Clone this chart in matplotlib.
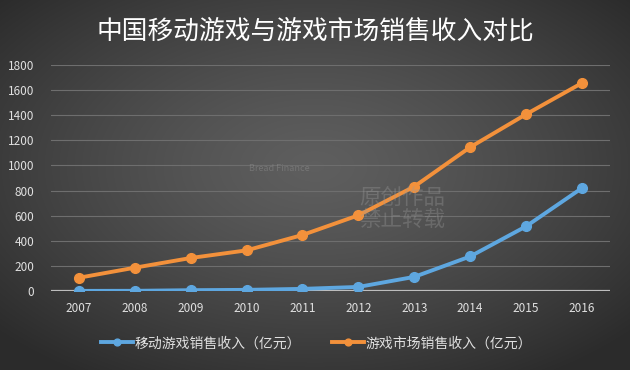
import numpy as np
import matplotlib.pyplot as plt

plt.rcParams['font.family'] = ['Noto Sans CJK SC', 'DejaVu Sans']

# data (亿元)
years = ['2007', '2008', '2009', '2010', '2011', '2012', '2013', '2014', '2015', '2016']
mobile = [1.0, 1.5, 6.4, 9.1, 17.0, 32.4, 112.4, 274.9, 514.6, 819.2]
market = [105.7, 185.6, 262.8, 323.7, 446.1, 602.8, 831.7, 1144.8, 1407.0, 1655.7]
yticks = [0, 200, 400, 600, 800, 1000, 1200, 1400, 1600, 1800]

fig = plt.figure(figsize=(6.3, 3.7), dpi=100)

# radial gradient background
bg = fig.add_axes([0, 0, 1, 1], zorder=-10)
gx, gy = np.meshgrid(np.linspace(-1, 1, 630), np.linspace(-1, 1, 370))
r = np.clip(np.sqrt(gx ** 2 + (gy + 0.1) ** 2) / 1.35, 0, 1)
shade = 0.37 - 0.20 * r ** 1.3
bg.imshow(np.dstack([shade, shade, shade]), aspect='auto', extent=[0, 1, 0, 1])
bg.axis('off')

fig.text(0.5, 0.915, '中国移动游戏与游戏市场销售收入对比', ha='center', va='center',
         color='white', fontsize=18.5)

# watermark
fig.text(0.57, 0.435, '原创作品\n禁止转载', ha='left', va='center', color='#9a9a9a',
         alpha=0.35, fontsize=15.5, linespacing=1.0)
fig.text(0.395, 0.545, 'Bread Finance', ha='left', va='center', color='#9a9a9a',
         alpha=0.4, fontsize=6.5)

ax = fig.add_axes([0.081, 0.2135, 0.887, 0.611])
ax.patch.set_alpha(0)
x = np.arange(len(years))

ax.plot(x, mobile, color='#5ea7e0', lw=2.8, marker='o', ms=7, label='移动游戏销售收入（亿元）', zorder=3)
ax.plot(x, market, color='#f3913b', lw=2.8, marker='o', ms=7, label='游戏市场销售收入（亿元）', zorder=3)

ax.set_xlim(-0.5, len(years) - 0.5)
ax.set_ylim(0, 1800)
ax.set_yticks(yticks)
ax.set_xticks(x)
ax.set_xticklabels(years)
ax.grid(axis='y', color='#6e6e6e', lw=0.8)
ax.set_axisbelow(True)
ax.axhline(0, color='#bdbdbd', lw=1.6, zorder=2)
for s in ax.spines.values():
    s.set_visible(False)
ax.tick_params(length=0, colors='#e0e0e0', labelsize=8.5)
ax.tick_params(axis='y', pad=12)
ax.tick_params(axis='x', pad=8)

leg = ax.legend(loc='upper center', bbox_to_anchor=(0.475, -0.145), ncol=2, frameon=False,
                fontsize=10, handlelength=2.3, columnspacing=2.2, handletextpad=0.15,
                markerscale=0.7)
for t in leg.get_texts():
    t.set_color('#e0e0e0')

fig.savefig('out.png', dpi=100)
